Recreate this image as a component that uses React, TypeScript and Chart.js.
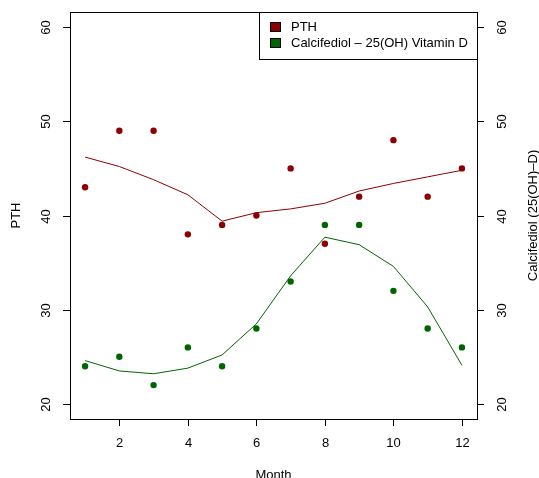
import React, { useEffect, useRef } from "react";
import { Chart, registerables } from "chart.js";

Chart.register(...registerables);

const months = [1, 2, 3, 4, 5, 6, 7, 8, 9, 10, 11, 12];
const pthValues = [43, 49, 49, 38, 39, 40, 45, 37, 42, 48, 42, 45];
const pthSmooth = [46.2, 45.2, 43.8, 42.2, 39.4, 40.3, 40.7, 41.3, 42.6, 43.4, 44.1, 44.8];
const vitDValues = [24, 25, 22, 26, 24, 28, 33, 39, 39, 32, 28, 26];
const vitDSmooth = [24.6, 23.5, 23.2, 23.8, 25.2, 28.5, 33.6, 37.7, 36.9, 34.6, 30.3, 24.1];
const xTicks = [2, 4, 6, 8, 10, 12];
const yTicks = [20, 30, 40, 50, 60];
const legendLabels = ["PTH", "Calcifediol \u2013 25(OH) Vitamin D"];
const xTitle = "Month";
const yLeftTitle = "PTH";
const yRightTitle = "Calcifediol (25(OH)\u2013D)";

const RED = "#8B0000";
const GREEN = "#006400";
const FONT = "13px 'Liberation Sans', Arial, Helvetica, sans-serif";

const toPts = (vals: number[]) => vals.map((v, i) => ({ x: months[i], y: v }));

export default function App() {
  const ref = useRef<HTMLCanvasElement | null>(null);

  useEffect(() => {
    if (!ref.current) return;
    const axesPlugin = {
      id: "rAxes",
      afterDraw(chart: any) {
        const ctx = chart.ctx as CanvasRenderingContext2D;
        const a = chart.chartArea;
        const xs = chart.scales.x;
        const yl = chart.scales.y;
        const yr = chart.scales.y2;
        ctx.save();
        ctx.strokeStyle = "#000";
        ctx.lineWidth = 1;
        ctx.strokeRect(Math.round(a.left) + 0.5, Math.round(a.top) + 0.5, Math.round(a.right - a.left), Math.round(a.bottom - a.top));
        ctx.fillStyle = "#000";
        ctx.font = FONT;
        // x ticks
        ctx.textAlign = "center";
        ctx.textBaseline = "middle";
        xTicks.forEach((t) => {
          const px = Math.round(xs.getPixelForValue(t)) + 0.5;
          ctx.beginPath();
          ctx.moveTo(px, a.bottom);
          ctx.lineTo(px, a.bottom + 7);
          ctx.stroke();
          ctx.fillText(String(t), px, a.bottom + 24);
        });
        ctx.fillText(xTitle, (a.left + a.right) / 2, a.bottom + 56);
        // left y ticks
        yTicks.forEach((t) => {
          const py = Math.round(yl.getPixelForValue(t)) + 0.5;
          ctx.beginPath();
          ctx.moveTo(a.left, py);
          ctx.lineTo(a.left - 7, py);
          ctx.stroke();
          ctx.save();
          ctx.translate(a.left - 24, py);
          ctx.rotate(-Math.PI / 2);
          ctx.fillText(String(t), 0, 0);
          ctx.restore();
        });
        ctx.save();
        ctx.translate(16, (a.top + a.bottom) / 2);
        ctx.rotate(-Math.PI / 2);
        ctx.fillText(yLeftTitle, 0, 0);
        ctx.restore();
        // right y ticks
        yTicks.forEach((t) => {
          const py = Math.round(yr.getPixelForValue(t)) + 0.5;
          ctx.beginPath();
          ctx.moveTo(a.right, py);
          ctx.lineTo(a.right + 7, py);
          ctx.stroke();
          ctx.save();
          ctx.translate(a.right + 25, py);
          ctx.rotate(-Math.PI / 2);
          ctx.fillText(String(t), 0, 0);
          ctx.restore();
        });
        ctx.save();
        ctx.translate(a.right + 56, (a.top + a.bottom) / 2);
        ctx.rotate(-Math.PI / 2);
        ctx.fillText(yRightTitle, 0, 0);
        ctx.restore();
        // legend
        const lx = 259.5, ly = a.top + 0.5, lw = a.right - 259.5 + 0.5, lh = 47;
        ctx.fillStyle = "#fff";
        ctx.fillRect(lx, ly, lw, lh);
        ctx.strokeRect(lx, ly, lw, lh);
        const cols = [RED, GREEN];
        ctx.textAlign = "left";
        legendLabels.forEach((lab, i) => {
          const cy = ly + 14 + i * 16;
          ctx.fillStyle = cols[i];
          ctx.fillRect(270.5, cy - 4, 10, 9);
          ctx.strokeRect(270.5, cy - 4, 10, 9);
          ctx.fillStyle = "#000";
          ctx.fillText(lab, 291, cy + 0.5);
        });
        ctx.restore();
      },
    };

    const chart = new Chart(ref.current, {
      type: "scatter",
      data: {
        datasets: [
          { label: legendLabels[0], data: toPts(pthValues), yAxisID: "y", backgroundColor: RED, borderColor: RED, pointRadius: 3.2, pointBorderWidth: 0, showLine: false },
          { label: "pth-smooth", data: toPts(pthSmooth), yAxisID: "y", borderColor: RED, borderWidth: 1, pointRadius: 0, showLine: true, tension: 0 },
          { label: legendLabels[1], data: toPts(vitDValues), yAxisID: "y2", backgroundColor: GREEN, borderColor: GREEN, pointRadius: 3.2, pointBorderWidth: 0, showLine: false },
          { label: "vitd-smooth", data: toPts(vitDSmooth), yAxisID: "y2", borderColor: GREEN, borderWidth: 1, pointRadius: 0, showLine: true, tension: 0 },
        ],
      },
      options: {
        animation: false,
        responsive: false,
        devicePixelRatio: 1,
        layout: { padding: { left: 70, right: 62, top: 12, bottom: 59 } },
        plugins: { legend: { display: false }, tooltip: { enabled: false } },
        scales: {
          x: { type: "linear", min: 0.56, max: 12.44, display: false },
          y: { type: "linear", position: "left", min: 18.4, max: 61.6, display: false },
          y2: { type: "linear", position: "right", min: 18.4, max: 61.6, display: false },
        },
      },
      plugins: [axesPlugin],
    });
    return () => chart.destroy();
  }, []);

  return (
    <div style={{ position: "fixed", left: 0, top: 0, width: 539, height: 478, background: "#fff" }}>
      <canvas ref={ref} width={539} height={478} style={{ display: "block", width: 539, height: 478 }} />
    </div>
  );
}
